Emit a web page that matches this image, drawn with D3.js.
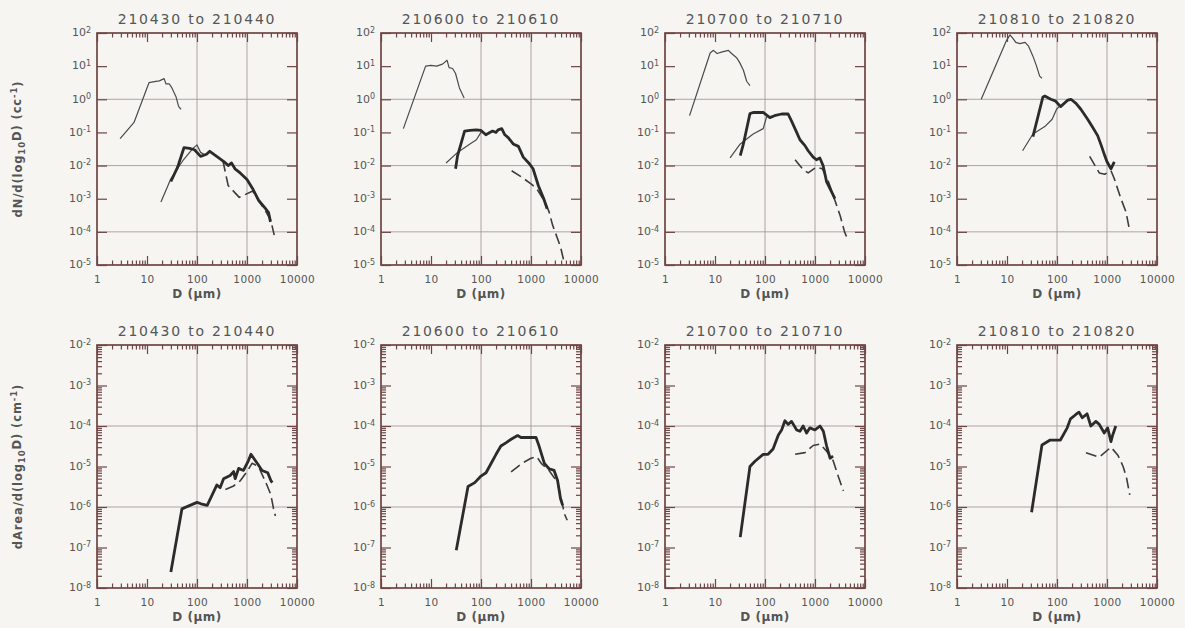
<!DOCTYPE html>
<html>
<head>
<meta charset="utf-8">
<script src="https://cdn.jsdelivr.net/npm/d3@7"></script>
<style>
  html, body { margin: 0; padding: 0; background: #f6f5f2; }
  svg { display: block; }
  text { font-family: "DejaVu Sans", "Liberation Sans", sans-serif; fill: #555; }
</style>
</head>
<body>
<svg id="chart" width="1185" height="628"></svg>
<script>
// Time-interval titles (one per column)
const panelTitles = ["210430 to 210440", "210600 to 210610", "210700 to 210710", "210810 to 210820"];

// Shared x axis: particle diameter D in micrometres
const xTickValues = [1, 10, 100, 1000, 10000];
const xGridValues = [100, 1000];

// Number concentration rows: decade tick exponents and gridlines
const numberExponents = [2, 1, 0, -1, -2, -3, -4, -5];
const numberGridExponents = [0, -2, -4];
// Area rows
const areaExponents = [-2, -3, -4, -5, -6, -7, -8];
const areaGridExponents = [-4, -6];

// Number distributions dN/dlogD (cc^-1), pairs of [D, value]
const fsspNumber = [
  [[2.9,0.065],[5.5,0.2],[11,3.2],[14,3.4],[17.6,3.6],[22,4.2],[24,2.9],[28,2.9],[31,2.3],[38,1.2],[43,0.6],[48,0.5]],
  [[2.8,0.13],[7.8,10],[10,10.5],[13,10],[17,11.5],[21,15],[23,9],[27,8.5],[31,6],[37,2.2],[46,1.1]],
  [[3.1,0.32],[8,25],[9.3,30],[11,24],[14,27],[18.5,30],[21.5,24],[27,18],[31,13],[37,7.5],[43,3.5],[50,2.6]],
  [[3.05,1.0],[9.8,60],[11.5,88],[13,70],[15,52],[18,48],[23,52],[27,40],[33,20],[39,10],[45,5],[50,4.3]]
];
const onedcNumber = [
  [[19,0.0008],[30,0.004],[52,0.014],[83,0.033],[100,0.042],[118,0.025],[150,0.02]],
  [[20,0.012],[34,0.025],[60,0.045],[81,0.06],[100,0.1],[110,0.11]],
  [[20,0.017],[32,0.045],[58,0.09],[92,0.13],[108,0.3]],
  [[20.5,0.028],[33,0.09],[57,0.15],[80,0.25],[98,0.5],[110,0.6]]
];
const twodcNumber = [
  [[30,0.0033],[41,0.009],[55,0.035],[71,0.033],[89,0.03],[118,0.019],[155,0.022],[180,0.027],[225,0.021],[290,0.016],[350,0.013],[420,0.01],[490,0.012],[575,0.008],[730,0.006],[1000,0.0038],[1300,0.002],[1700,0.0009],[2350,0.0005],[2700,0.00038],[2950,0.0002]],
  [[31,0.008],[34,0.02],[47,0.11],[60,0.115],[80,0.12],[100,0.115],[125,0.085],[150,0.1],[170,0.11],[200,0.1],[220,0.12],[260,0.13],[300,0.085],[350,0.07],[440,0.045],[560,0.038],[700,0.018],[900,0.012],[1100,0.008],[1400,0.0025],[1800,0.001],[2100,0.0005]],
  [[32,0.02],[37,0.045],[50,0.37],[58,0.4],[92,0.4],[125,0.28],[155,0.32],[215,0.36],[290,0.36],[340,0.22],[430,0.1],[500,0.06],[630,0.04],[730,0.028],[920,0.018],[1070,0.015],[1250,0.017],[1450,0.01],[1700,0.0033],[2150,0.0016],[2500,0.001]],
  [[33,0.075],[52,1.15],[57,1.25],[75,1.0],[92,0.9],[118,0.6],[165,0.95],[190,1.0],[240,0.75],[300,0.5],[410,0.25],[520,0.14],[650,0.08],[770,0.04],[900,0.02],[1000,0.013],[1200,0.008],[1400,0.013]]
];
const twodpNumber = [
  [[330,0.014],[420,0.0025],[700,0.0011],[1300,0.0017],[1700,0.0009],[2400,0.0004],[3000,0.00022],[3500,0.00008]],
  [[410,0.007],[650,0.0045],[1000,0.0028],[1300,0.002],[1900,0.0008],[2300,0.0004],[2700,0.00016],[3300,0.00007],[3900,0.000035],[4600,0.000012]],
  [[400,0.015],[580,0.0075],[730,0.006],[1070,0.009],[1400,0.008],[1900,0.003],[2500,0.0009],[3200,0.0003],[3900,0.0001],[4300,0.00007]],
  [[450,0.019],[700,0.006],[900,0.0055],[1200,0.007],[1400,0.004],[1900,0.001],[2400,0.0004],[2800,0.00012]]
];

// Area distributions dArea/dlogD (cm^-1)
const twodcArea = [
  [[30,2.5e-8],[50,9e-7],[100,1.3e-6],[120,1.2e-6],[160,1.1e-6],[250,3.5e-6],[290,3e-6],[340,5e-6],[460,6e-6],[540,7.5e-6],[580,5e-6],[680,9e-6],[850,8e-6],[1070,1.4e-5],[1200,2e-5],[1600,1.2e-5],[2000,8e-6],[2600,7e-6],[3000,4.5e-6],[3200,4e-6]],
  [[32,8.5e-8],[55,3.2e-6],[75,4e-6],[100,5.8e-6],[126,7e-6],[160,1.2e-5],[200,2e-5],[250,3.2e-5],[320,3.9e-5],[400,4.7e-5],[540,5.8e-5],[630,5.2e-5],[860,5.2e-5],[1260,5.2e-5],[1450,3.2e-5],[1850,1.2e-5],[2300,8.8e-6],[2900,8e-6],[3400,4.5e-6],[3900,1.6e-6],[4300,1.1e-6]],
  [[32,1.8e-7],[50,1e-5],[63,1.35e-5],[92,2e-5],[115,2e-5],[145,2.7e-5],[185,6e-5],[215,8e-5],[250,1.35e-4],[290,1.1e-4],[340,1.3e-4],[430,8e-5],[500,7.4e-5],[580,1e-4],[680,6.7e-5],[790,9e-5],[1000,8e-5],[1260,1e-4],[1470,7.4e-5],[1700,3.3e-5],[2000,1.6e-5],[2300,1.8e-5]],
  [[31,7.4e-7],[50,3.4e-5],[73,4.5e-5],[117,4.5e-5],[160,9e-5],[186,1.5e-4],[235,1.9e-4],[275,2.2e-4],[320,1.6e-4],[400,2e-4],[475,1e-4],[600,1.3e-4],[700,1.1e-4],[880,6.7e-5],[1030,9e-5],[1200,4.1e-5],[1300,6e-5],[1500,1e-4]]
];
const twodpArea = [
  [[370,2.7e-6],[540,3.3e-6],[740,4.5e-6],[1000,7.5e-6],[1260,1.2e-5],[1700,1e-5],[2500,3.5e-6],[3000,2e-6],[3400,9e-7],[3700,6e-7]],
  [[400,7.4e-6],[660,1.2e-5],[1000,1.6e-5],[1300,1.75e-5],[1600,1.2e-5],[2300,8e-6],[3400,4e-6],[4300,1.1e-6],[4600,7e-7],[5300,4.7e-7]],
  [[400,2e-5],[630,2.2e-5],[920,3.3e-5],[1260,3.6e-5],[1700,2.4e-5],[2300,1.4e-5],[2950,5.5e-6],[3700,2.5e-6]],
  [[380,2.2e-5],[700,1.7e-5],[1200,3e-5],[1650,1.9e-5],[2100,1e-5],[2450,5.4e-6],[2850,2e-6]]
];

// ---- layout ----
const svg = d3.select("#chart");
const panelLefts = [97, 381, 665, 957];
const panelWidth = 200;
const rows = [
  { top: 33, bottom: 265, exps: numberExponents, grid: numberGridExponents, yMinor: false,
    series: [
      { data: fsspNumber, cls: "thin" },
      { data: onedcNumber, cls: "thin" },
      { data: twodpNumber, cls: "dash" },
      { data: twodcNumber, cls: "thick" }
    ],
    yTitle: ["dN/d(log", "10", "D) (cc", "-1", ")"] },
  { top: 345, bottom: 588, exps: areaExponents, grid: areaGridExponents, yMinor: true,
    series: [
      { data: twodpArea, cls: "dash" },
      { data: twodcArea, cls: "thick" }
    ],
    yTitle: ["dArea/d(log", "10", "D) (cm", "-1", ")"] }
];

const frameColor = "#6e4444";
const gridColor = "#a89a9a";
const styles = {
  thin:  { stroke: "#4a4a4a", width: 1.2, dash: null },
  thick: { stroke: "#2b2b2b", width: 2.8, dash: null },
  dash:  { stroke: "#3c3c3c", width: 1.6, dash: "11,5" }
};

// minor log ticks 2..9 within each decade
function minorTicks(lo, hi) {
  const out = [];
  for (let e = Math.floor(Math.log10(lo)); e < Math.ceil(Math.log10(hi)); e++) {
    for (let m = 2; m <= 9; m++) {
      const v = m * Math.pow(10, e);
      if (v > lo && v < hi) out.push(v);
    }
  }
  return out;
}

function styleAxis(g) {
  g.select(".domain").remove();
  g.selectAll(".tick line").attr("stroke", frameColor).attr("stroke-width", 1.2);
}

rows.forEach((row, ri) => {
  const yMax = Math.pow(10, d3.max(row.exps));
  const yMin = Math.pow(10, d3.min(row.exps));
  const yVals = row.exps.map(e => Math.pow(10, e));

  panelLefts.forEach((left, pi) => {
    const x = d3.scaleLog().domain([1, 10000]).range([left, left + panelWidth]);
    const y = d3.scaleLog().domain([yMin, yMax]).range([row.bottom, row.top]);
    const g = svg.append("g");

    // gridlines
    g.selectAll("line.vgrid").data(xGridValues).join("line")
      .attr("x1", d => x(d)).attr("x2", d => x(d))
      .attr("y1", row.top).attr("y2", row.bottom)
      .attr("stroke", gridColor).attr("stroke-width", 0.9);
    g.selectAll("line.hgrid").data(row.grid.map(e => Math.pow(10, e))).join("line")
      .attr("x1", left).attr("x2", left + panelWidth)
      .attr("y1", d => y(d)).attr("y2", d => y(d))
      .attr("stroke", gridColor).attr("stroke-width", 0.9);

    // data lines
    const clipId = `clip-${ri}-${pi}`;
    svg.append("clipPath").attr("id", clipId).append("rect")
      .attr("x", left).attr("y", row.top).attr("width", panelWidth).attr("height", row.bottom - row.top);
    const line = d3.line().x(d => x(d[0])).y(d => y(d[1]));
    row.series.forEach(s => {
      const st = styles[s.cls];
      g.append("path")
        .datum(s.data[pi])
        .attr("d", line)
        .attr("clip-path", `url(#${clipId})`)
        .attr("fill", "none")
        .attr("stroke", st.stroke)
        .attr("stroke-width", st.width)
        .attr("stroke-linejoin", "round")
        .attr("stroke-dasharray", st.dash);
    });

    // x axes: bottom with labels, top without; major + minor ticks pointing inward
    const xMinor = minorTicks(1, 10000);
    const xb = g.append("g").attr("transform", `translate(0,${row.bottom})`)
      .call(d3.axisBottom(x).tickValues(xTickValues).tickSize(-9).tickPadding(11).tickFormat(d3.format("d")));
    styleAxis(xb);
    xb.selectAll(".tick text").attr("font-size", 10.5).attr("fill", "#555").attr("letter-spacing", 0.4);
    g.append("g").attr("transform", `translate(0,${row.bottom})`)
      .call(d3.axisBottom(x).tickValues(xMinor).tickSize(-4.5).tickFormat("")).call(styleAxis);
    g.append("g").attr("transform", `translate(0,${row.top})`)
      .call(d3.axisTop(x).tickValues(xTickValues).tickSize(-9).tickFormat("")).call(styleAxis);
    g.append("g").attr("transform", `translate(0,${row.top})`)
      .call(d3.axisTop(x).tickValues(xMinor).tickSize(-4.5).tickFormat("")).call(styleAxis);

    // y axes: left with 10^n labels, right without
    const yl = g.append("g").attr("transform", `translate(${left},0)`)
      .call(d3.axisLeft(y).tickValues(yVals).tickSize(-10).tickPadding(6).tickFormat(""));
    styleAxis(yl);
    g.append("g").attr("transform", `translate(${left + panelWidth},0)`)
      .call(d3.axisRight(y).tickValues(yVals).tickSize(-10).tickFormat("")).call(styleAxis);
    if (row.yMinor) {
      const yMinorVals = minorTicks(yMin, yMax);
      g.append("g").attr("transform", `translate(${left},0)`)
        .call(d3.axisLeft(y).tickValues(yMinorVals).tickSize(-5).tickFormat("")).call(styleAxis);
      g.append("g").attr("transform", `translate(${left + panelWidth},0)`)
        .call(d3.axisRight(y).tickValues(yMinorVals).tickSize(-5).tickFormat("")).call(styleAxis);
    }
    yl.selectAll(".tick").each(function(d) {
      const t = d3.select(this).select("text").text(null)
        .attr("x", -6).attr("dy", "0.25em").attr("text-anchor", "end").attr("font-size", 11);
      const e = Math.round(Math.log10(d));
      t.append("tspan").text("10");
      t.append("tspan").attr("dy", "-0.45em").attr("font-size", 8).text(e < 0 ? "-" + (-e) : String(e));
    });

    // frame
    g.append("rect")
      .attr("x", left).attr("y", row.top)
      .attr("width", panelWidth).attr("height", row.bottom - row.top)
      .attr("fill", "none").attr("stroke", frameColor).attr("stroke-width", 1.7);

    // title
    g.append("text")
      .attr("x", left + panelWidth / 2).attr("y", row.top - 9)
      .attr("text-anchor", "middle").attr("font-size", 14).attr("letter-spacing", 1.8)
      .text(panelTitles[pi]);

    // x title: D (μm)
    g.append("text")
      .attr("x", left + panelWidth / 2).attr("y", row.bottom + 33)
      .attr("text-anchor", "middle").attr("font-size", 12).attr("font-weight", "bold").attr("fill", "#555")
      .attr("letter-spacing", 0.5)
      .text("D (μm)");
  });

  // y title for the row
  const cy = (row.top + row.bottom) / 2;
  const yt = svg.append("text")
    .attr("transform", `translate(22,${cy}) rotate(-90)`)
    .attr("text-anchor", "middle").attr("font-size", 11.5).attr("font-weight", "bold").attr("fill", "#555")
    .attr("letter-spacing", 0.9);
  const parts = row.yTitle;
  yt.append("tspan").text(parts[0]);
  yt.append("tspan").attr("dy", "0.35em").attr("font-size", 8.5).text(parts[1]);
  yt.append("tspan").attr("dy", "-0.35em").text(parts[2]);
  yt.append("tspan").attr("dy", "-0.5em").attr("font-size", 8.5).text(parts[3]);
  yt.append("tspan").attr("dy", "0.5em").text(parts[4]);
});
</script>
</body>
</html>
